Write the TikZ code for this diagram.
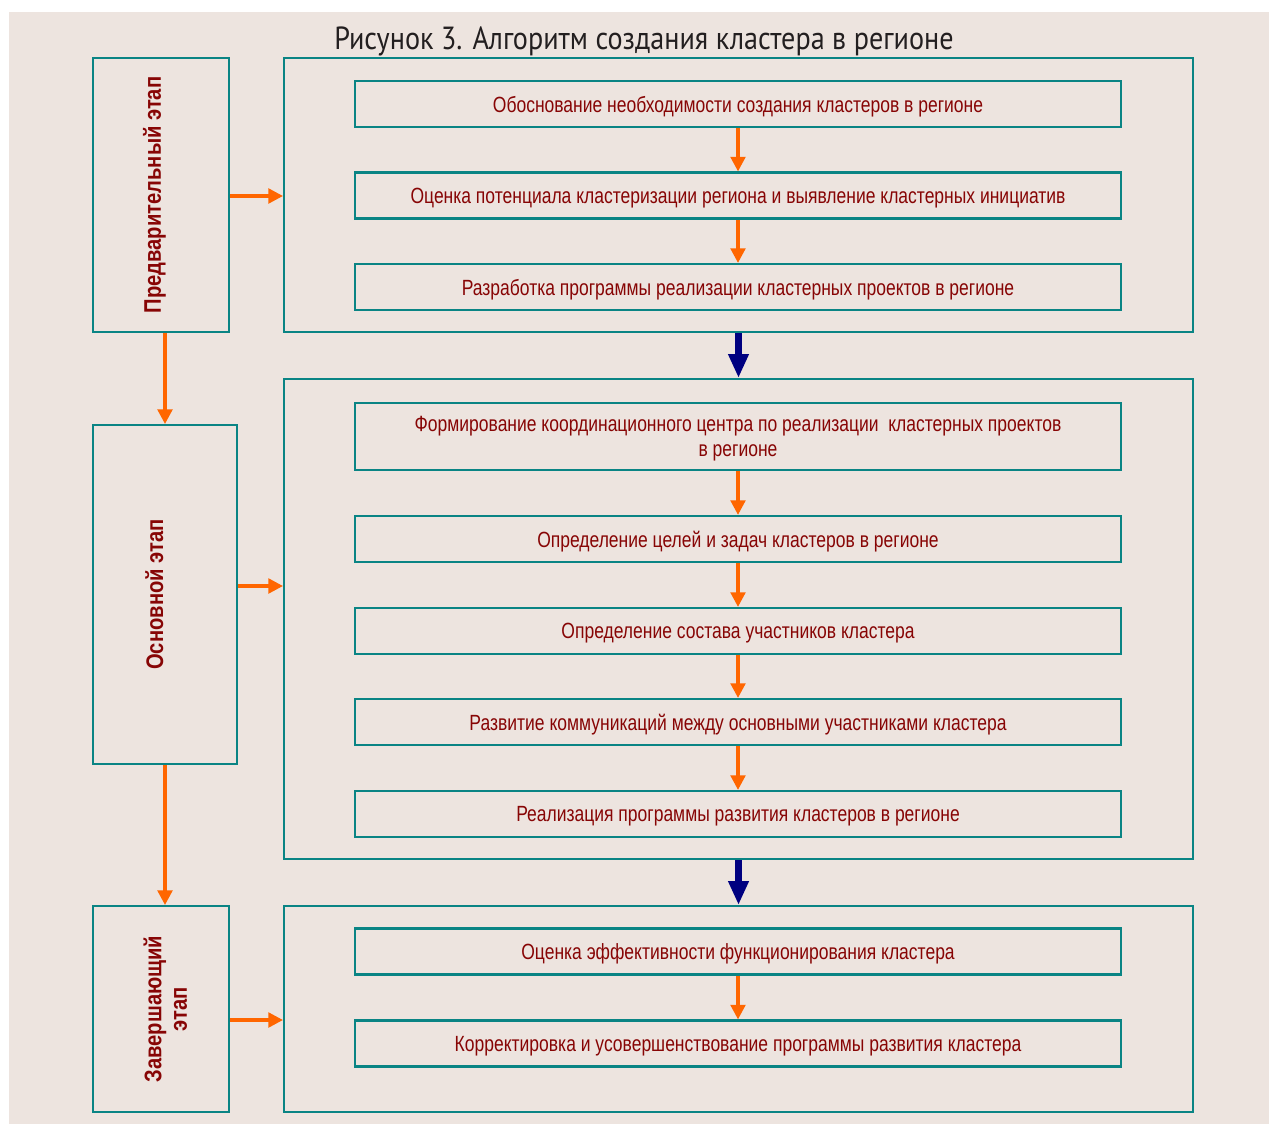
\documentclass[tikz,border=0pt]{standalone}
\usepackage{fontspec}
\setmainfont{Liberation Sans}
\newfontfamily\stepfont[FakeStretch=0.795]{Liberation Sans}
\newfontfamily\stagefont[FakeStretch=0.84]{Liberation Sans}
\newfontfamily\titlefont[FakeStretch=0.88]{PT Sans}
\usetikzlibrary{arrows.meta}
\definecolor{bgpink}{RGB}{237,228,223}
\definecolor{tealline}{RGB}{10,132,132}
\definecolor{darkred}{RGB}{135,5,5}
\definecolor{flow}{RGB}{255,102,0}
\definecolor{navyarrow}{RGB}{0,0,128}
\definecolor{titlegray}{RGB}{35,31,32}

\begin{document}
\begin{tikzpicture}[x=0.75pt,y=-0.75pt,
    stagebox/.style={draw=tealline,line width=1.5pt,inner sep=0pt,text=darkred,
      font=\fontsize{18}{19}\selectfont\stagefont\bfseries},
    block/.style={draw=tealline,line width=1.5pt,minimum width=681.75pt,inner sep=0pt},
    stepbox/.style={draw=tealline,line width=1.6pt,minimum width=574.5pt,inner sep=0pt,
      text=darkred,align=center,text depth=0pt,font=\fontsize{16.5}{19}\selectfont\stepfont},
    flowarrow/.style={draw=flow,line width=2.5pt,-{Triangle[length=11pt,width=11pt]}},
    bigarrow/.style={draw=navyarrow,line width=5pt,-{Triangle[length=18pt,width=14.5pt]}}]
  \fill[white] (0,0) rectangle (1269,1124);
  \fill[bgpink] (9,12) rectangle (1269,1124);
  \node[anchor=base,text=titlegray,font=\fontsize{24}{26}\selectfont\titlefont] (title) at (644,50) {Рисунок 3. Алгоритм создания кластера в регионе};

  \node[stagebox,minimum width=102pt,minimum height=205.5pt] (stage1) at (161,195) {\rotatebox{90}{Предварительный этап}\hspace*{10pt}};
  \node[stagebox,minimum width=108pt,minimum height=254.25pt] (stage2) at (165,594.5) {\rotatebox{90}{Основной этап}\hspace*{16pt}};
  \node[stagebox,minimum width=102pt,minimum height=154.5pt] (stage3) at (161,1009) {\hspace*{12pt}\rotatebox{90}{\begin{tabular}{@{}c@{}}Завершающий\\этап\end{tabular}}};

  \node[block,minimum height=205.5pt] (block1) at (738.5,195) {};
  \node[block,minimum height=360pt] (block2) at (738.5,619) {};
  \node[block,minimum height=154.5pt] (block3) at (738.5,1009) {};

  \node[stepbox,minimum height=34.5pt] (step1) at (738,104) {Обоснование необходимости создания кластеров в регионе};
  \node[stepbox,minimum height=34.5pt] (step2) at (738,195.5) {Оценка потенциала кластеризации региона и выявление кластерных инициатив};
  \node[stepbox,minimum height=34.5pt] (step3) at (738,287) {Разработка программы реализации кластерных проектов в регионе};

  \node[stepbox,minimum height=50.25pt] (step4) at (738,436.5) {Формирование координационного центра по реализации~ кластерных проектов\\в регионе};
  \node[stepbox,minimum height=34.5pt] (step5) at (738,539) {Определение целей и задач кластеров в регионе};
  \node[stepbox,minimum height=34.5pt] (step6) at (738,631) {Определение состава участников кластера};
  \node[stepbox,minimum height=34.5pt] (step7) at (738,722) {Развитие коммуникаций между основными участниками кластера};
  \node[stepbox,minimum height=34.5pt] (step8) at (738,814) {Реализация программы развития кластеров в регионе};

  \node[stepbox,minimum height=34.5pt] (step9) at (738,951.5) {Оценка эффективности функционирования кластера};
  \node[stepbox,minimum height=34.5pt] (step10) at (738,1043.5) {Корректировка и усовершенствование программы развития кластера};

  \draw[flowarrow] (step1) -- (step2);
  \draw[flowarrow] (step2) -- (step3);
  \draw[flowarrow] (step4) -- (step5);
  \draw[flowarrow] (step5) -- (step6);
  \draw[flowarrow] (step6) -- (step7);
  \draw[flowarrow] (step7) -- (step8);
  \draw[flowarrow] (step9) -- (step10);

  \draw[flowarrow] (stage1.east |- 0,196) -- (block1.west |- 0,196);
  \draw[flowarrow] (stage2.east |- 0,586) -- (block2.west |- 0,586);
  \draw[flowarrow] (stage3.east |- 0,1020) -- (block3.west |- 0,1020);
  \draw[flowarrow] (stage2.north |- stage1.south) -- (stage2.north);
  \draw[flowarrow] (stage2.south) -- (stage2.south |- stage3.north);

  \draw[bigarrow] (block1) -- (block2);
  \draw[bigarrow] (block2) -- (block3);
\end{tikzpicture}
\end{document}
